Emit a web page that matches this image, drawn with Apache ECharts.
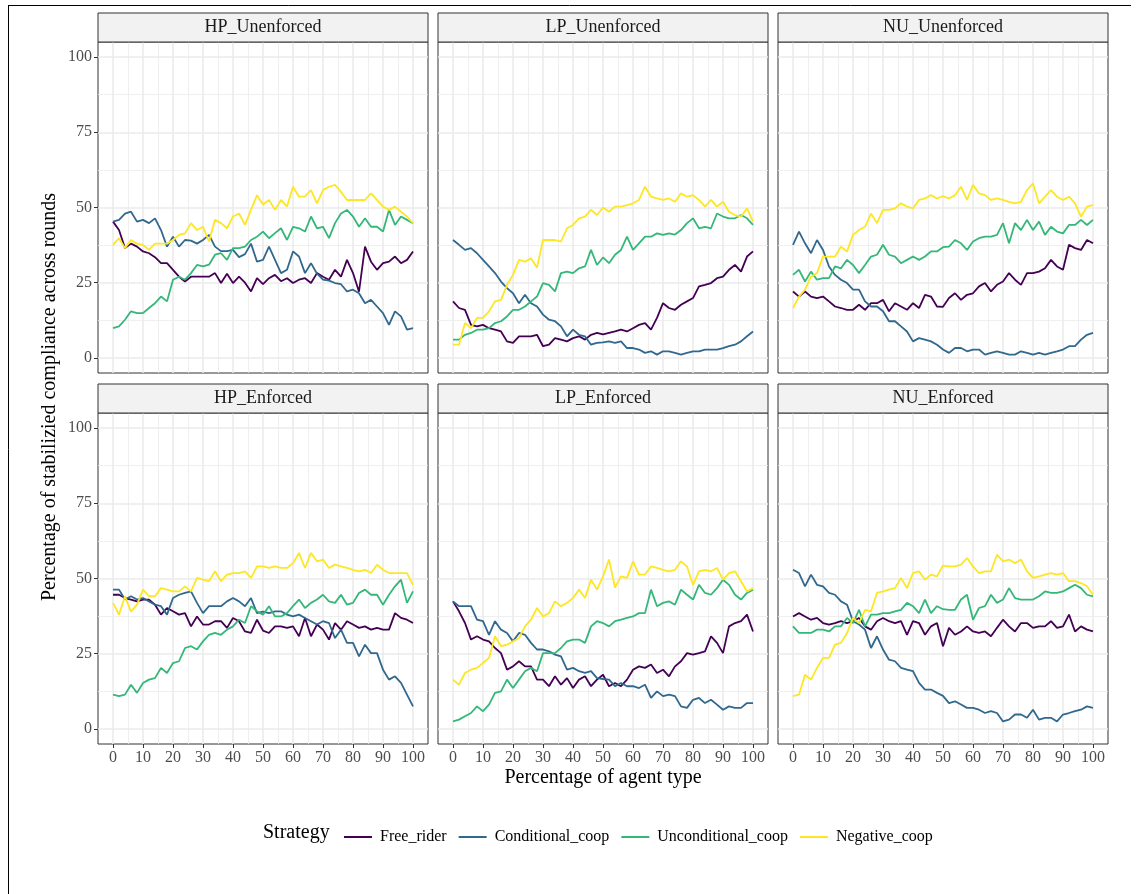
<!DOCTYPE html>
<html>
<head>
<meta charset="utf-8">
<script src="https://cdn.jsdelivr.net/npm/echarts@6/dist/echarts.min.js"></script>
<style>
  html, body { margin: 0; padding: 0; background: #ffffff; }
  #chart { width: 1142px; height: 894px; }
</style>
</head>
<body>
<div id="chart"></div>
<script>
// ---- axes, categories ----
const xValues = [0,2,4,6,8,10,12,14,16,18,20,22,24,26,28,30,32,34,36,38,40,42,44,46,48,50,
  52,54,56,58,60,62,64,66,68,70,72,74,76,78,80,82,84,86,88,90,92,94,96,98,100];
const xTicks = [0,10,20,30,40,50,60,70,80,90,100];
const xMinorTicks = [5,15,25,35,45,55,65,75,85,95];
const yTicks = [0,25,50,75,100];
const yMinorTicks = [12.5,37.5,62.5,87.5];
const strategies = ['Free_rider','Conditional_coop','Unconditional_coop','Negative_coop'];
const strategyColors = ['#440154','#31688E','#35B779','#FDE725'];
const panelNames = ['HP_Unenforced','LP_Unenforced','NU_Unenforced','HP_Enforced','LP_Enforced','NU_Enforced'];

// ---- HP_Unenforced ----
const hpUnenforcedFree = [45.3,42.5,36.5,38,37,35.4,34.8,33.5,31.5,31.5,
  29.3,27,25.4,27,27,27,27,28.2,24.9,28,
  24.9,27,25,22.1,26.5,24.5,26.5,27.6,25.5,26.5,
  24.9,26,26.5,24.9,28.2,27,26,29.3,27,32.6,
  28.2,22,37,32,29.3,31.5,32,33.7,31.5,32.6,
  35.4];
const hpUnenforcedCond = [45.3,45.9,48,48.6,45.3,45.9,44.8,46.4,42.5,37,
  40.3,37,39.2,39,38,39.2,40.9,37,35.5,35.5,
  35.9,33.5,34.5,38,32,32.6,37,32.6,28.2,29.3,
  35.4,33.7,28.2,31.5,28,26,25.7,24.9,24.5,22.1,
  22.7,21.5,18.2,19.3,17.1,14.9,11,15.5,13.8,9.4,
  9.9];
const hpUnenforcedUncond = [9.9,10.5,12.7,15.5,14.9,14.9,16.6,18.2,20.4,18.8,
  26,27,26,28.2,30.9,30.4,31,34.3,34.8,32.6,
  36.5,36.5,37,39.2,40.3,42,39.8,41.5,43.1,39.2,
  43.6,43.1,42,47,43.1,43.6,39.8,44.8,48,49.2,
  47,43.6,46.4,43.6,43.6,42,49.2,44.2,47,45.9,
  44.8];
const hpUnenforcedNeg = [37.6,39.8,36.5,39.2,38,37.6,35.9,38,38,38,
  39.2,40.9,41.4,44.8,42.5,43.6,38.7,45.9,44.8,43.1,
  47,48,44.2,49.2,54.1,51,52.5,49.2,52.5,50.3,
  56.9,53.6,53.6,55.8,51.4,55.8,56.9,57.5,55.2,52.5,
  52.5,52.5,52.5,54.7,52.5,50.3,49.2,50.3,48.6,47,
  44.8];

// ---- LP_Unenforced ----
const lpUnenforcedFree = [18.8,16.6,16,11,10.5,11,9.9,9.4,8.8,5.5,
  5,7.2,7.2,7.2,7.7,3.9,4.4,6.6,6.1,5.5,
  6.6,7.2,6.1,7.7,8.3,7.8,8.3,8.8,9.4,8.8,
  9.9,11,11.6,9.4,13.3,18.2,16.6,16,17.7,18.8,
  19.9,23.8,24.3,24.9,26.5,27,29.3,30.9,28.7,33.7,
  35.4];
const lpUnenforcedCond = [39.2,37.6,35.9,36.5,34.8,32.6,30.4,28.2,25.4,23.2,
  21.5,18.2,21,18.2,17.1,14.4,12.7,12.2,10.5,7.2,
  9.4,7.7,7.2,4.4,5,5.2,5.5,5,5.5,3.3,
  3.3,2.8,1.7,2.2,1.1,2.2,2.2,1.7,1.1,1.7,
  2.2,2.2,2.8,2.8,2.8,3.3,3.9,4.4,5.5,7.2,
  8.8];
const lpUnenforcedUncond = [6.1,6.1,7.7,8.3,9.4,9.4,9.9,11.6,12.2,13.8,
  16,16,17.1,18.8,20.4,24.9,24.3,22.1,28.2,28.7,
  28.2,29.8,30.4,35.9,30.9,33.4,31.5,34.3,35.9,40.3,
  35.9,38.1,40.3,40.3,41.4,40.9,41.4,41,42.5,44.8,
  46.4,43.1,43.6,43.1,48,47,46.4,46.4,47.5,46.4,
  44.2];
const lpUnenforcedNeg = [4.4,4.4,11.6,9.9,13.3,13.3,15.5,18.8,19.3,24.3,
  27.6,32.6,32,33.1,30,39.2,39.2,39.2,38.7,43.1,
  44.2,46.4,47,49.2,47.5,50,48.6,50.3,50.3,50.8,
  51.4,52.5,56.9,53.6,53,52.5,53,51.9,54.7,53.6,
  54.1,52.5,50.3,52.5,50.3,51.9,48.6,47.5,47,49.7,
  45.3];

// ---- NU_Unenforced ----
const nuUnenforcedFree = [22.1,20.4,22.1,20.4,19.9,20.4,18.8,17.1,16.6,16,
  16,17.7,16,18.2,18.2,19.3,15.5,18.2,17.1,16,
  18.2,16.6,21,20.4,17.1,17,19.9,21.5,19.3,21,
  21.5,23.8,24.9,22.1,24.3,25.4,28.2,26,24.3,28.2,
  28.2,28.7,29.8,32.6,30.4,29.3,37.6,36.5,35.9,39.2,
  38.1];
const nuUnenforcedCond = [37.6,42,38.1,34.8,39.2,35.9,30.4,27.6,26,24.9,
  22.7,22.7,18.8,17.1,17.1,15.5,12.2,12.2,10.5,8.8,
  5.5,6.6,6.1,5.5,4.4,2.8,1.7,3.3,3.3,2.2,
  2.8,2.8,1.1,1.7,2.2,1.7,1.1,1.1,2.2,1.7,
  1.1,1.7,1.1,1.7,2.2,2.8,3.9,3.9,6.1,7.7,
  8.3];
const nuUnenforcedUncond = [27.6,29.3,25.4,28.7,26,26.5,26.5,30.4,29.8,32.6,
  30.9,28.2,30.9,33.7,34.3,37.6,34.3,33.7,31.5,32.6,
  33.7,32.6,33.7,35.4,35.4,36.8,37,39.2,38.1,35.9,
  38.7,39.8,40.3,40.3,40.9,44.8,38.1,44.8,42.5,45.9,
  42.5,45.3,40.9,43.6,42,41.4,44.2,44.2,45.9,44.2,
  45.9];
const nuUnenforcedNeg = [16.6,20.4,22.7,27,28.2,33.7,33.7,33.7,37,35.4,
  40.9,42.5,43.6,48,44.8,49.2,49.2,49.7,51.4,50.3,
  49.7,52.5,53,54.1,53,53.8,53,54.1,56.9,52.5,
  57.5,54.7,54.1,52.5,53,52.5,51.9,51.4,51.9,55.8,
  58,51.4,53.6,55.8,53.6,52.5,53.6,51.4,47,50.3,
  50.8];

// ---- HP_Enforced ----
const hpEnforcedFree = [44.6,44.6,43.5,43,42.4,43,43,41.3,38,40.2,
  39.1,38,38.5,34.1,37.4,34.7,34.7,35.8,35.8,33.6,
  36.9,35.8,32.4,31.9,36.3,32.7,31.9,34.1,34.1,33.6,
  34.1,30.8,36.9,30.8,34.7,33,29.7,35.2,33,35.8,
  34.7,33.6,34.1,33,33.6,33,33,38.5,36.9,36.3,
  35.2];
const hpEnforcedCond = [46.3,46.3,43,44.1,43,43.5,42.4,41.3,40.8,38,
  43.5,44.6,45.2,45.7,41.9,38.5,40.8,40.8,40.8,42.4,
  43.5,42.4,40.8,43.5,38.5,39,38.5,39.1,39.1,38,
  37.4,38,36.9,35.8,34.7,35.8,35.2,30.2,33,28.6,
  28.6,24.1,28,25.2,25.2,19.7,16.4,17.5,15.3,11.4,
  7.5];
const hpEnforcedUncond = [11.4,10.9,11.4,14.7,12,15.3,16.4,16.9,20.3,18.6,
  21.9,22.5,26.9,27.5,26.4,29.1,31.3,31.9,31.3,33,
  34.1,36.3,35.2,40.8,39.1,38,40.8,37.4,37.4,38.5,
  40.8,43,40.2,41.9,43,44.6,42.4,41.9,44.6,41.3,
  41.9,45.2,46.3,44.6,44.6,41.3,44.6,47.4,49.6,41.9,
  45.7];
const hpEnforcedNeg = [41.9,38,44.1,39,41.3,46.3,44.1,44.1,46.8,46.3,
  45.7,45.7,47.4,45.7,50.2,49.6,49.1,52.4,49.1,51.3,
  51.8,51.8,52.4,50.2,54,54,53.5,54,53.5,53.5,
  55.1,58.5,53.5,58.5,55.7,56.3,53.5,54.6,54,53.5,
  52.9,52.4,52.9,51.8,54.6,52.9,51.8,51.8,51.8,51.8,
  47.9];

// ---- LP_Enforced ----
const lpEnforcedFree = [42.4,39.1,35.2,29.7,30.8,29.7,29.1,26.9,25.2,19.7,
  20.8,22.5,20.8,20.8,16.4,16.4,14.2,17.5,14.7,16.9,
  13.6,16.4,17.5,14.2,16.4,18,14.2,15.3,14.2,16.4,
  19.7,20.8,20.3,21.4,18.6,19.7,17.5,20.8,22.5,25.2,
  24.7,25.2,25.8,30.8,28.6,25.2,34.1,35.2,35.8,38,
  32.4];
const lpEnforcedCond = [42.4,40.8,40.8,40.8,36.3,35.8,31.3,35.8,33,31.9,
  29.1,31.9,31.3,28.6,26.4,26.4,25.8,24.7,24.1,19.7,
  20.3,19.2,18.6,19.2,16.9,16.6,16.4,14.2,15.3,14.2,
  14.2,13.6,14.7,10.3,12.5,10.9,11.4,10.9,7.5,7,
  9.7,10.3,8.6,9.7,8.1,6.4,7.5,7,7,8.6,
  8.6];
const lpEnforcedUncond = [2.5,3.1,4.2,5.3,7.5,5.9,8.1,12,12.5,16.4,
  13.6,16.4,19.2,20.3,19.2,25.2,25.2,25.2,26.9,29.1,
  29.7,29.7,28.6,34.1,35.8,35.2,34.1,35.8,36.3,36.9,
  37.4,38.5,38.5,46.3,40.8,41.9,42.4,41.3,46.3,44.6,
  43,47.9,45.2,44.6,46.8,49.6,47.9,44.6,43,45.2,
  46.3];
const lpEnforcedNeg = [16.4,14.7,18.6,19.7,20.3,21.9,23.6,30.8,27.5,28,
  29.1,30.2,34.1,36.3,40.2,37.4,38.5,42.4,40.8,41.9,
  43.5,46.3,43.5,49.6,46.3,50.7,56.3,47,50.7,50.2,
  55.7,51.3,51.3,54,53.5,52.9,52.4,52.9,55.7,54,
  47.9,52.4,52.9,52.4,53.5,49.6,51.8,52.4,49.1,45.7,
  46.8];

// ---- NU_Enforced ----
const nuEnforcedFree = [37.4,38.5,37.4,36.3,36.9,35.2,34.7,35.2,35.8,35.2,
  35.8,36.9,34.1,33,35.8,36.9,35.8,35.2,35.8,31.3,
  35.8,35.2,31.3,34.1,35.2,27.5,33.6,31.3,32.4,34.1,
  32.4,31.9,32.4,30.8,33.6,36.3,34.1,32.4,35.2,35.2,
  33.6,34.1,34.1,35.8,33.6,34.1,38,32.4,34.1,33,
  32.4];
const nuEnforcedCond = [52.9,51.8,47.4,51.3,47.9,47.4,45.2,44.6,42.4,41.3,
  35.8,34.7,33,26.9,30.8,26.4,23,22.5,20.3,19.7,
  19.2,15.3,13.1,13.1,12,11,8.6,9.2,8.1,7,
  7,6.4,5.3,5.9,5.3,2.5,3.1,4.8,4.8,3.7,
  6.4,3.1,3.7,3.7,2.5,4.8,5.3,5.9,6.4,7.5,
  7];
const nuEnforcedUncond = [34.1,31.9,31.9,31.9,33,33,32.4,34.1,34.1,36.9,
  35.2,39.6,34.1,38,38,38.5,38.5,39.1,39.6,41.9,
  40.8,38.5,43,38.5,40.8,39.8,39.6,39.6,43,44.6,
  36.3,40.2,40.8,44.6,41.9,43,46.8,43.5,43,43,
  43,44.1,45.7,45.2,45.2,45.7,46.8,47.9,46.8,44.6,
  44.1];
const nuEnforcedNeg = [10.9,11.4,18,16.4,20.3,23.6,23.6,28,28.6,31.9,
  36.9,35.2,39.6,39.1,45.2,45.7,46.3,46.8,50.2,46.8,
  51.8,52.4,49.6,51.3,50.7,54.3,54,54,54.6,56.8,
  54,51.8,52.4,52.4,57.9,55.7,56.3,55.1,56.3,52.4,
  50.2,50.7,51.3,51.8,51.3,51.8,49.1,49.1,48.5,47.4,
  44.6];

// one entry per facet, series in the order of `strategies`
const panelSeries = [
  [hpUnenforcedFree, hpUnenforcedCond, hpUnenforcedUncond, hpUnenforcedNeg],
  [lpUnenforcedFree, lpUnenforcedCond, lpUnenforcedUncond, lpUnenforcedNeg],
  [nuUnenforcedFree, nuUnenforcedCond, nuUnenforcedUncond, nuUnenforcedNeg],
  [hpEnforcedFree, hpEnforcedCond, hpEnforcedUncond, hpEnforcedNeg],
  [lpEnforcedFree, lpEnforcedCond, lpEnforcedUncond, lpEnforcedNeg],
  [nuEnforcedFree, nuEnforcedCond, nuEnforcedUncond, nuEnforcedNeg]
];

// ---- layout ----
const FONT = "'Liberation Serif', 'DejaVu Serif', serif";
const colLefts = [98, 438, 778];
const rowTops = [42, 413];
const panelW = 330, panelH = 331, stripH = 29;
const gridColor = '#EBEBEB';
const borderColor = '#333333';

const grids = [], xAxes = [], yAxes = [], series = [], graphics = [];

panelNames.forEach((name, i) => {
  const r = Math.floor(i / 3), c = i % 3;
  const left = colLefts[c], top = rowTops[r];
  grids.push({
    left: left, top: top, width: panelW, height: panelH,
    show: true, backgroundColor: '#ffffff',
    borderColor: borderColor, borderWidth: 1, containLabel: false
  });
  const bottomRow = r === 1, firstCol = c === 0;
  // major x axis: ticks, labels, major grid lines
  xAxes.push({
    gridIndex: i, type: 'value', min: -5, max: 105, position: 'bottom',
    axisLine: { show: false, onZero: false },
    axisTick: { show: bottomRow, inside: false, customValues: xTicks, length: 4, lineStyle: { color: borderColor, width: 1 } },
    axisLabel: { show: bottomRow, customValues: xTicks, color: '#4D4D4D', fontFamily: FONT, fontSize: 16, margin: 6 },
    splitLine: { show: true, lineStyle: { color: gridColor, width: 1.6 } }
  });
  // minor x axis: only minor grid lines
  xAxes.push({
    gridIndex: i, type: 'value', min: -5, max: 105, position: 'top',
    axisLine: { show: false, onZero: false },
    axisTick: { show: false, customValues: xMinorTicks },
    axisLabel: { show: false, customValues: xMinorTicks },
    splitLine: { show: true, lineStyle: { color: gridColor, width: 0.8 } }
  });
  yAxes.push({
    gridIndex: i, type: 'value', min: -5, max: 105, position: 'left',
    axisLine: { show: false, onZero: false },
    axisTick: { show: firstCol, inside: false, customValues: yTicks, length: 4, lineStyle: { color: borderColor, width: 1 } },
    axisLabel: { show: firstCol, customValues: yTicks, color: '#4D4D4D', fontFamily: FONT, fontSize: 16, margin: 6 },
    splitLine: { show: true, lineStyle: { color: gridColor, width: 1.6 } }
  });
  yAxes.push({
    gridIndex: i, type: 'value', min: -5, max: 105, position: 'right',
    axisLine: { show: false, onZero: false },
    axisTick: { show: false, customValues: yMinorTicks },
    axisLabel: { show: false, customValues: yMinorTicks },
    splitLine: { show: true, lineStyle: { color: gridColor, width: 0.8 } }
  });

  strategies.forEach((s, k) => {
    series.push({
      name: s, type: 'line',
      xAxisIndex: i * 2, yAxisIndex: i * 2,
      data: xValues.map((x, j) => [x, panelSeries[i][k][j]]),
      showSymbol: false, symbol: 'none',
      color: strategyColors[k],
      itemStyle: { color: strategyColors[k] },
      lineStyle: { color: strategyColors[k], width: 1.8 },
      z: 3 + k, silent: true, animation: false
    });
  });

  // facet strip
  graphics.push({
    type: 'rect', shape: { x: left, y: top - stripH, width: panelW, height: stripH },
    style: { fill: '#F2F2F2', stroke: borderColor, lineWidth: 1 }, z: 10
  });
  graphics.push({
    type: 'text', x: left + panelW / 2, y: top - stripH / 2,
    style: { text: name, fill: '#1A1A1A', font: '18px ' + FONT, align: 'center', verticalAlign: 'middle' }, z: 11
  });
});

// titles, legend title, outer frame
graphics.push({
  type: 'text', x: 603, y: 778,
  style: { text: 'Percentage of agent type', fill: '#000000', font: '20px ' + FONT, align: 'center', verticalAlign: 'middle' }
});
graphics.push({
  type: 'text', x: 50, y: 397, rotation: Math.PI / 2,
  style: { text: 'Percentage of stabilizied compliance across rounds', fill: '#000000', font: '20px ' + FONT, align: 'center', verticalAlign: 'middle' }
});
graphics.push({
  type: 'text', x: 263, y: 833,
  style: { text: 'Strategy', fill: '#000000', font: '20px ' + FONT, align: 'left', verticalAlign: 'middle' }
});
graphics.push({ type: 'line', shape: { x1: 8.5, y1: 5, x2: 8.5, y2: 894 }, style: { stroke: '#000000', lineWidth: 1 } });
graphics.push({ type: 'line', shape: { x1: 8, y1: 5.5, x2: 1131, y2: 5.5 }, style: { stroke: '#000000', lineWidth: 1 } });

const chart = echarts.init(document.getElementById('chart'), null, { renderer: 'canvas' });
chart.setOption({
  backgroundColor: '#ffffff',
  animation: false,
  grid: grids,
  xAxis: xAxes,
  yAxis: yAxes,
  legend: {
    data: strategies, left: 339, top: 824,
    icon: 'rect', itemWidth: 28, itemHeight: 2, itemGap: 12,
    selectedMode: false,
    textStyle: { fontFamily: FONT, fontSize: 16, color: '#000000', padding: [0, 0, 0, 3] }
  },
  series: series,
  graphic: graphics
});
</script>
</body>
</html>
